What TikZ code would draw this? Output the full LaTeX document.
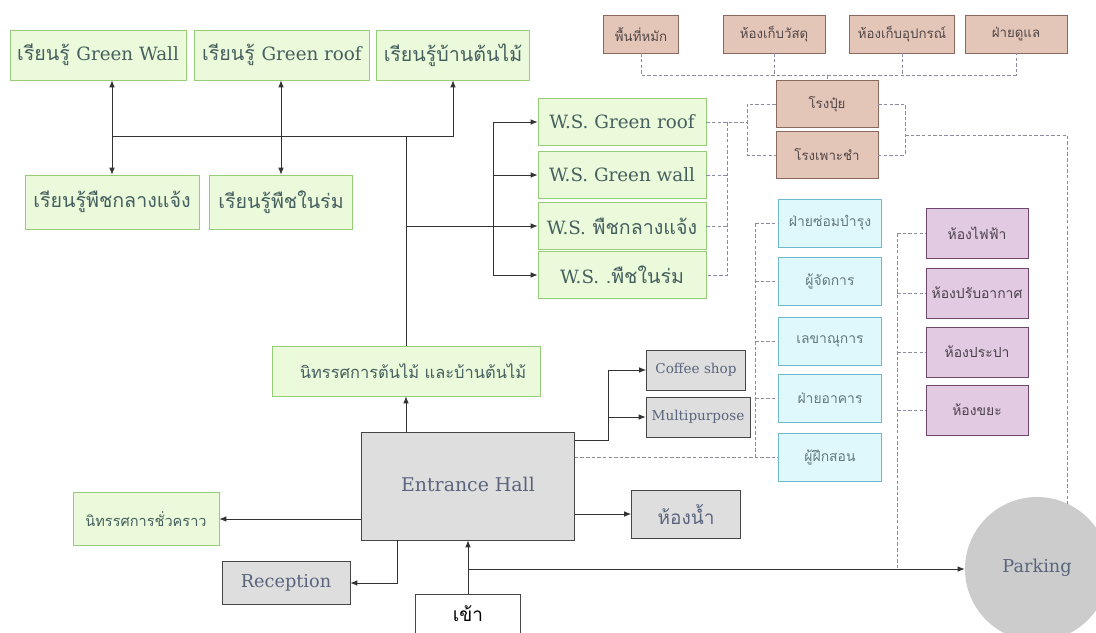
\documentclass[tikz,border=0pt]{standalone}
\usepackage{fontspec}
\setmainfont{Loma}[Script=Thai, Scale=0.9]
\newfontfamily\latin{DejaVu Serif}[Scale=0.84]
\usetikzlibrary{arrows.meta}

\definecolor{grnfill}{RGB}{234,250,218}
\definecolor{grnline}{RGB}{150,205,120}
\definecolor{grntext}{RGB}{70,95,95}
\definecolor{brnfill}{RGB}{228,198,184}
\definecolor{brnline}{RGB}{140,105,95}
\definecolor{brntext}{RGB}{80,70,70}
\definecolor{cynfill}{RGB}{222,248,252}
\definecolor{cynline}{RGB}{110,185,205}
\definecolor{cyntext}{RGB}{100,120,125}
\definecolor{prpfill}{RGB}{226,202,226}
\definecolor{prpline}{RGB}{110,70,110}
\definecolor{prptext}{RGB}{75,65,75}
\definecolor{gryfill}{RGB}{222,222,222}
\definecolor{gryline}{RGB}{70,70,70}
\definecolor{grytext}{RGB}{90,100,125}
\definecolor{dashc}{RGB}{140,140,160}
\definecolor{pkfill}{RGB}{204,204,204}

\newcommand{\pxu}{0.025cm}

\begin{document}
\begin{tikzpicture}[
  x=0.025cm, y=-0.025cm,
  gbox/.style={draw=grnline, fill=grnfill, text=grntext, inner sep=0pt, font=\fontsize{15.5}{18}\selectfont},
  bbox/.style={draw=brnline, fill=brnfill, text=brntext, inner sep=0pt, minimum width=102*\pxu, font=\fontsize{10.5}{12}\selectfont},
  cbox/.style={draw=cynline, fill=cynfill, text=cyntext, inner sep=0pt, minimum width=103*\pxu, minimum height=48*\pxu, font=\fontsize{11}{13}\selectfont},
  pbox/.style={draw=prpline, fill=prpfill, text=prptext, inner sep=0pt, minimum width=102*\pxu, minimum height=50*\pxu, font=\fontsize{11}{13}\selectfont},
  hbox/.style={draw=gryline, fill=gryfill, text=grytext, inner sep=0pt},
  arrow/.style={-{Latex[length=5pt,width=4pt]}, line width=0.7pt, draw=black!80},
  biarrow/.style={{Latex[length=5pt,width=4pt]}-{Latex[length=5pt,width=4pt]}, line width=0.7pt, draw=black!80},
  link/.style={line width=0.7pt, draw=black!80},
  dline/.style={draw=dashc, line width=0.5pt, dash pattern=on 2.5pt off 1.5pt}
]
\useasboundingbox (0,0) rectangle (1096,632);

% learning rooms
\node[gbox, minimum width=176*\pxu, minimum height=50*\pxu] (lw) at (98,55) {เรียนรู้ {\latin Green Wall}};
\node[gbox, minimum width=175*\pxu, minimum height=50*\pxu] (lr) at (282,55) {เรียนรู้ {\latin Green roof}};
\node[gbox, minimum width=153*\pxu, minimum height=50*\pxu] (lh) at (453,55) {เรียนรู้บ้านต้นไม้};
\node[gbox, minimum width=174*\pxu, minimum height=54*\pxu] (lo) at (112,202) {เรียนรู้พืชกลางแจ้ง};
\node[gbox, minimum width=143*\pxu, minimum height=54*\pxu] (li) at (281,202) {เรียนรู้พืชในร่ม};

% workshops
\node[gbox, minimum width=168*\pxu, minimum height=47*\pxu] (wr) at (622,122) {{\latin W.S. Green roof}};
\node[gbox, minimum width=168*\pxu, minimum height=47*\pxu] (ww) at (622,175) {{\latin W.S. Green wall}};
\node[gbox, minimum width=168*\pxu, minimum height=47*\pxu] (wo) at (622,226) {{\latin W.S.} พืชกลางแจ้ง};
\node[gbox, minimum width=168*\pxu, minimum height=47*\pxu] (wi) at (622,275) {{\latin W.S.} .พืชในร่ม};

% exhibitions
\node[gbox, minimum width=268*\pxu, minimum height=50*\pxu, font=\fontsize{13}{16}\selectfont] (ex) at (406,371) {\hspace*{10pt}นิทรรศการต้นไม้ และบ้านต้นไม้};
\node[gbox, minimum width=146*\pxu, minimum height=53*\pxu, font=\fontsize{11.5}{13}\selectfont] (tx) at (146,519) {นิทรรศการชั่วคราว};

% service rooms
\node[bbox, minimum width=75*\pxu, minimum height=38*\pxu] (ta) at (641,34) {พื้นที่หมัก};
\node[bbox, minimum height=38*\pxu] (tb) at (774,34) {ห้องเก็บวัสดุ};
\node[bbox, minimum width=105*\pxu, minimum height=38*\pxu] (tc) at (902,34) {ห้องเก็บอุปกรณ์};
\node[bbox, minimum height=38*\pxu] (td) at (1016,34) {ฝ่ายดูแล};
\node[bbox, minimum height=47*\pxu] (fp) at (827,104) {โรงปุ๋ย};
\node[bbox, minimum height=47*\pxu] (ns) at (827,155) {โรงเพาะชำ};

% staff
\node[cbox] (c1) at (830,223) {ฝ่ายซ่อมบำรุง};
\node[cbox] (c2) at (830,281) {ผู้จัดการ};
\node[cbox] (c3) at (830,341) {เลขาณุการ};
\node[cbox] (c4) at (830,398) {ฝ่ายอาคาร};
\node[cbox] (c5) at (830,457) {ผู้ฝึกสอน};

% systems
\node[pbox] (p1) at (977,233) {ห้องไฟฟ้า};
\node[pbox] (p2) at (977,293) {ห้องปรับอากาศ};
\node[pbox] (p3) at (977,352) {ห้องประปา};
\node[pbox] (p4) at (977,410) {ห้องขยะ};

% ground floor
\node[hbox, minimum width=213*\pxu, minimum height=108*\pxu, font=\latin\fontsize{16}{19}\selectfont] (eh) at (468,486) {\raisebox{3pt}{Entrance Hall}};
\node[hbox, minimum width=99*\pxu, minimum height=40*\pxu, font=\latin\fontsize{11.5}{13}\selectfont] (co) at (696,370) {Coffee shop};
\node[hbox, minimum width=104*\pxu, minimum height=40*\pxu, font=\latin\fontsize{11.5}{13}\selectfont] (mp) at (698,417) {Multipurpose};
\node[hbox, minimum width=109*\pxu, minimum height=48*\pxu, font=\fontsize{15}{18}\selectfont] (wc) at (686,514) {ห้องน้ำ};
\node[hbox, minimum width=128*\pxu, minimum height=43*\pxu, font=\latin\fontsize{15}{17}\selectfont] (rc) at (286,583) {Reception};
\node[draw=gryline, fill=white, inner sep=0pt, minimum width=105*\pxu, minimum height=40*\pxu, font=\fontsize{15}{18}\selectfont] (en) at (468,614) {เข้า};
\node[circle, fill=pkfill, text=grytext, minimum size=144*\pxu, font=\latin\fontsize{15}{17}\selectfont] (pk) at (1037,569) {\raisebox{4pt}{Parking}};

% learning links
\coordinate (hub) at (406,136);
\draw[biarrow] (lo.north |- lw.south) -- (lo.north);
\draw[biarrow] (li.north |- lr.south) -- (li.north);
\draw[arrow] (lo.north |- hub) -| (lh.south);
\draw[link] (ex.north) -- (hub);
\draw[arrow] (hub |- wo.west) -- (wo.west);
\coordinate (wbus) at (493,0);
\draw[link] (wbus |- wr.west) -- (wbus |- wi.west);
\draw[arrow] (wbus |- wr.west) -- (wr.west);
\draw[arrow] (wbus |- ww.west) -- (ww.west);
\draw[arrow] (wbus |- wi.west) -- (wi.west);

% entrance links
\draw[arrow] (ex.south |- eh.north) -- (ex.south);
\coordinate (cbus) at (608,440);
\draw[link] (cbus -| eh.east) -- (cbus) -- (cbus |- co.west);
\draw[arrow] (cbus |- co.west) -- (co.west);
\draw[arrow] (cbus |- mp.west) -- (mp.west);
\draw[arrow] (eh.east |- wc.west) -- (wc.west);
\draw[arrow] (eh.west |- tx.east) -- (tx.east);
\draw[arrow] ([xshift=-71*\pxu]eh.south) |- (rc.east);
\draw[arrow] (en.north) -- (eh.south);
\draw[arrow] (en.north |- pk.west) -- (pk.west);

% service links
\coordinate (tbus) at (0,75);
\draw[dline] (ta.south) -- (ta.south |- tbus) -- (td.south |- tbus) -- (td.south);
\draw[dline] (tb.south) -- (tb.south |- tbus);
\draw[dline] (tc.south) -- (tc.south |- tbus);
\draw[dline] (fp.north |- tbus) -- (fp.north);
\coordinate (gbus) at (747,0);
\draw[dline] (wr.east) -- (wr.east -| gbus);
\draw[dline] (fp.west) -- (fp.west -| gbus) -- (gbus |- ns.west) -- (ns.west);
\coordinate (wsb) at (727,0);
\draw[dline] (wr.east -| wsb) -- (wsb |- wi.east) -- (wi.east);
\draw[dline] (ww.east) -- (ww.east -| wsb);
\draw[dline] (wo.east) -- (wo.east -| wsb);
\coordinate (rbus) at (905,135);
\draw[dline] (fp.east) -- (fp.east -| rbus) -- (rbus |- ns.east) -- (ns.east);
\draw[dline] (rbus) -| (pk.65);

% staff and systems links
\coordinate (sbus) at (755,0);
\draw[dline] (eh.east |- c5.west) -- (c5.west);
\draw[dline] (sbus |- c1.west) -- (sbus |- c5.west);
\foreach \n in {c1,c2,c3,c4} \draw[dline] (sbus |- \n.west) -- (\n.west);
\coordinate (ybus) at (897,0);
\draw[dline] (ybus |- p1.west) -- (ybus |- pk.west);
\foreach \n in {p1,p2,p3,p4} \draw[dline] (ybus |- \n.west) -- (\n.west);

\end{tikzpicture}
\end{document}
